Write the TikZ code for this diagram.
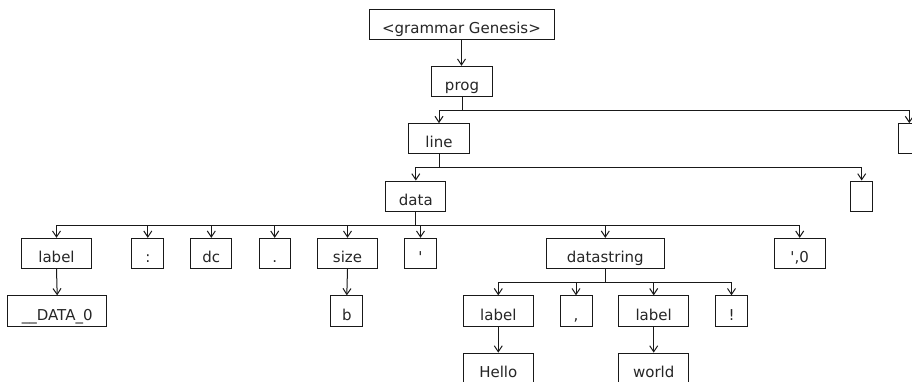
\documentclass[tikz,border=0pt]{standalone}
\usepackage{fontspec}
\setmainfont{DejaVu Sans}
\usetikzlibrary{arrows.meta}
\begin{document}
\begin{tikzpicture}[x=1pt,y=-1pt,
  box/.style={draw=black!90,line width=1pt,inner sep=0pt,minimum height=30.3pt,text height=18pt,text depth=0pt,font=\fontsize{15}{17}\selectfont,text=black!85},
  conn/.style={draw=black!90,line width=1pt,-{Straight Barb[length=6pt,width=8pt]}}]
\useasboundingbox[fill=white] (0,0) rectangle (912,382);
% nodes
\node[box,minimum width=185pt] (g) at (461.5,24.2) {<grammar Genesis>};
\node[box,minimum width=60.6pt] (prog) at (462,81.5) {prog};
\node[box,minimum width=60.6pt] (line) at (439,138.8) {line};
\node[box,minimum width=22pt] (rbox) at (909.3,138.8) {};
\node[box,minimum width=60.3pt] (data) at (415.8,196.2) {data};
\node[box,minimum width=22pt] (ebox) at (861.7,196.2) {};
\node[box,minimum width=69.6pt] (lab1) at (56.5,253.5) {label};
\node[box,minimum width=31.7pt] (colon) at (147.8,253.5) {:};
\node[box,minimum width=41.3pt] (dc) at (211.3,253.5) {dc};
\node[box,minimum width=31.3pt] (dot) at (274.7,253.5) {.};
\node[box,minimum width=60.4pt] (size) at (347.5,253.5) {size};
\node[box,minimum width=31.6pt] (quote) at (420.5,253.5) {\textquotesingle};
\node[box,minimum width=118pt] (ds) at (605.3,253.5) {datastring};
\node[box,minimum width=50.7pt] (qz) at (799.7,253.5) {\textquotesingle,0};
\node[box,minimum width=99pt] (d0) at (57.2,311) {\_\_DATA\_0};
\node[box,minimum width=31.7pt] (b) at (346.8,311) {b};
\node[box,minimum width=70pt] (lab2) at (498.3,311) {label};
\node[box,minimum width=32pt] (comma) at (576,311) {,};
\node[box,minimum width=70pt] (lab3) at (653.7,311) {label};
\node[box,minimum width=31.6pt] (bang) at (731.5,311) {!};
\node[box,minimum width=70pt] (hello) at (498.3,368.3) {Hello};
\node[box,minimum width=70pt] (world) at (653.7,368.3) {world};
% connectors
\draw[conn] (g.south) -- (g.south |- prog.north);
\foreach \c in {line,rbox} \draw[conn] (prog.south) -- ++(0,13.3) -| (\c.north);
\foreach \c in {data,ebox} \draw[conn] (line.south) -- ++(0,13) -| (\c.north);
\foreach \c in {lab1,colon,dc,dot,size,quote,ds,qz} \draw[conn] (data.south) -- ++(0,13.4) -| (\c.north);
\foreach \c in {lab2,comma,lab3,bang} \draw[conn] (ds.south) -- ++(0,13.6) -| (\c.north);
\draw[conn] (lab1.south) -- (d0.north);
\draw[conn] (size.south) -- (b.north);
\draw[conn] (lab2.south) -- (hello.north);
\draw[conn] (lab3.south) -- (world.north);
\end{tikzpicture}
\end{document}
